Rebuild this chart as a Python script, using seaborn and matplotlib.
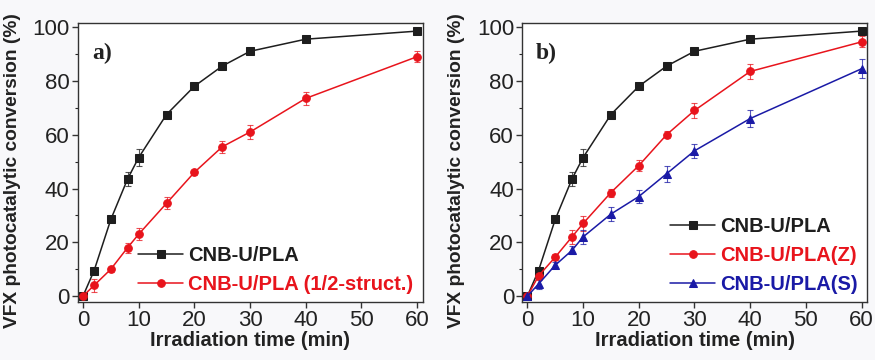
import numpy as np
import pandas as pd
import matplotlib
matplotlib.use("Agg")
import matplotlib.pyplot as plt
import seaborn as sns
from matplotlib.ticker import MultipleLocator

# -------------------------
# Data
# -------------------------
time_min = [0, 2, 5, 8, 10, 15, 20, 25, 30, 40, 60]

cnb_pla = [0, 9.5, 28.5, 43.5, 51.5, 67.5, 78.0, 85.5, 91.0, 95.5, 98.5]
cnb_pla_err = [0.8, 1.0, 1.0, 2.5, 3.0, 1.0, 1.0, 1.0, 1.0, 1.0, 1.0]

cnb_half = [0, 4.0, 10.0, 18.0, 23.0, 34.5, 46.0, 55.5, 61.0, 73.5, 89.0]
cnb_half_err = [0.8, 2.5, 1.0, 1.8, 2.2, 2.2, 1.0, 2.2, 2.5, 2.3, 2.0]

cnb_z = [0, 7.5, 14.5, 22.0, 27.0, 38.5, 48.5, 60.0, 69.0, 83.5, 94.5]
cnb_z_err = [0.8, 1.5, 1.2, 2.5, 2.8, 1.5, 2.0, 1.2, 2.8, 2.8, 2.0]

cnb_s = [0, 4.5, 11.5, 17.0, 22.0, 30.5, 37.0, 45.5, 54.0, 66.0, 84.5]
cnb_s_err = [0.8, 2.0, 1.2, 1.5, 2.5, 2.5, 2.5, 3.0, 2.5, 3.0, 3.5]

labels_a = ["CNB-U/PLA", "CNB-U/PLA (1/2-struct.)"]
labels_b = ["CNB-U/PLA", "CNB-U/PLA(Z)", "CNB-U/PLA(S)"]

BLACK = "#1e1e1e"
RED = "#e8141c"
BLUE = "#1a1aa6"

# -------------------------
# Style
# -------------------------
sns.set_style("ticks")
plt.rcParams["font.family"] = ["Liberation Sans", "DejaVu Sans"]
plt.rcParams["axes.edgecolor"] = "#333333"
plt.rcParams["axes.linewidth"] = 1.0

fig = plt.figure(figsize=(8.75, 3.6), dpi=100)
fig.patch.set_facecolor("#f8f8fa")
ax_a = fig.add_axes([0.0891, 0.161, 0.394, 0.775])
ax_b = fig.add_axes([0.597, 0.161, 0.394, 0.775])


def draw_series(ax, y, err, color, marker, label):
    df = pd.DataFrame({"t": time_min, "y": y})
    ax.errorbar(time_min, y, yerr=err, fmt="none", ecolor=color, elinewidth=0.8,
                capsize=2.5, capthick=0.8, alpha=0.75, zorder=2)
    sns.lineplot(data=df, x="t", y="y", ax=ax, color=color, marker=marker,
                 markersize=5.5, markeredgecolor=color, linewidth=1.1,
                 label=label, zorder=3)


def style_axes(ax, tag, legend_colors, anchor):
    ax.set_facecolor("white")
    ax.set_xlim(-0.9, 61.0)
    ax.set_ylim(-2.2, 101.5)
    ax.xaxis.set_major_locator(MultipleLocator(10))
    ax.yaxis.set_major_locator(MultipleLocator(20))
    ax.yaxis.set_minor_locator(MultipleLocator(10))
    ax.tick_params(axis="both", which="major", direction="out", length=4,
                   width=1, labelsize=16, pad=2, colors="#333333",
                   labelcolor="#222222")
    ax.tick_params(axis="y", which="minor", direction="out", length=2.5, width=0.8)
    ax.set_xlabel("Irradiation time (min)", fontsize=14.5, fontweight="bold",
                  color="#222222", labelpad=0)
    ax.set_ylabel("VFX photocatalytic conversion (%)", fontsize=13.8,
                  fontweight="bold", color="#222222", labelpad=1)
    ax.yaxis.set_label_coords(-0.165, 0.47)
    ax.text(0.04, 0.87, tag, transform=ax.transAxes, fontsize=17,
            fontweight="bold", family="Liberation Serif", color="#222222")
    for s in ax.spines.values():
        s.set_visible(True)
    leg = ax.legend(loc="lower right", bbox_to_anchor=anchor, frameon=False,
                    fontsize=14.5, handlelength=2.2, handletextpad=0.25,
                    labelspacing=0.5, borderaxespad=0)
    for text, c in zip(leg.get_texts(), legend_colors):
        text.set_color(c)
        text.set_fontweight("bold")


# -------------------------
# Panel a
# -------------------------
draw_series(ax_a, cnb_pla, cnb_pla_err, BLACK, "s", labels_a[0])
draw_series(ax_a, cnb_half, cnb_half_err, RED, "o", labels_a[1])
style_axes(ax_a, "a)", [BLACK, RED], (0.995, 0.0))

# -------------------------
# Panel b
# -------------------------
draw_series(ax_b, cnb_pla, cnb_pla_err, BLACK, "s", labels_b[0])
draw_series(ax_b, cnb_z, cnb_z_err, RED, "o", labels_b[1])
draw_series(ax_b, cnb_s, cnb_s_err, BLUE, "^", labels_b[2])
style_axes(ax_b, "b)", [BLACK, RED, BLUE], (0.995, 0.0))

fig.savefig("out.png", dpi=100, facecolor=fig.get_facecolor())
plt.close(fig)
